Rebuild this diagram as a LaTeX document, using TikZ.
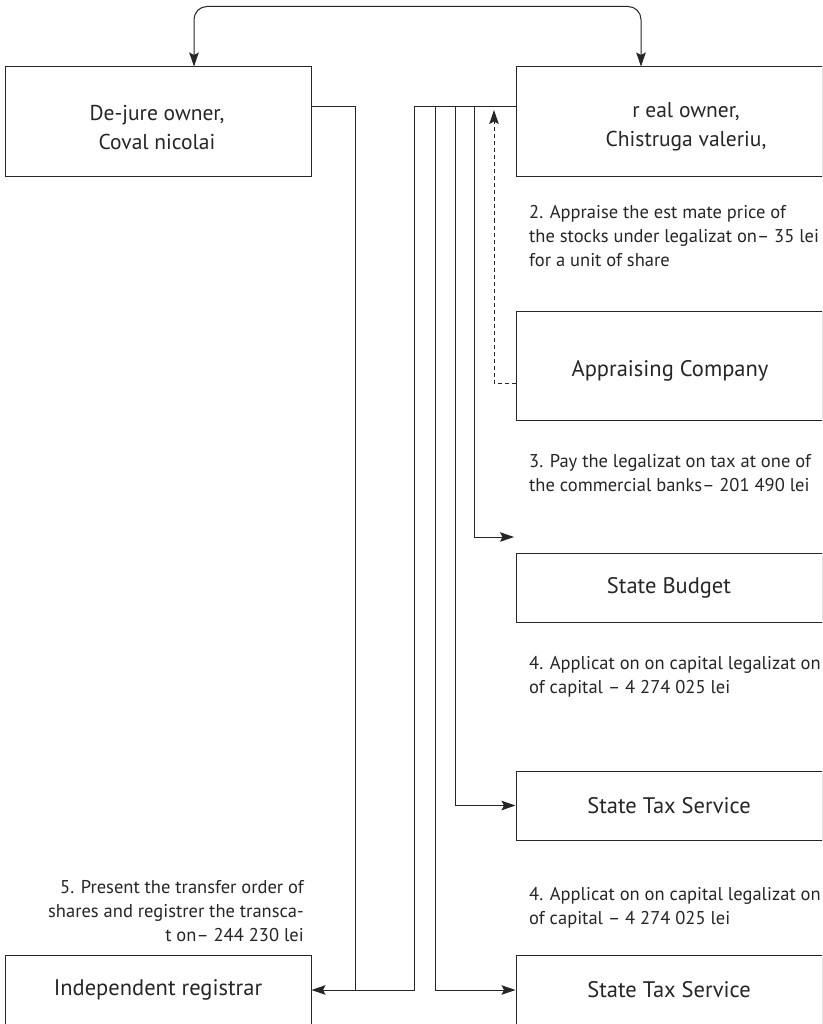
\documentclass[tikz,border=0pt]{standalone}
\usepackage{fontspec}
\setmainfont{PT Sans}
\usetikzlibrary{arrows.meta}
\definecolor{ink}{HTML}{262626}
\tikzset{
  box/.style={draw=ink, line width=1pt, minimum width=306pt, inner sep=0pt, text=ink, align=center, font=\fontsize{22.5}{29}\selectfont},
  boxtext/.style={inner sep=0pt, text=ink, align=center, font=\fontsize{21.5}{29}\selectfont},
  lab/.style={inner sep=0pt, text=ink, font=\fontsize{18.5}{23.6}\selectfont},
  wire/.style={draw=ink, line width=1pt},
  arr/.style={wire, -{Stealth[length=14pt,width=9.5pt,inset=2.5pt]}},
  dbl/.style={wire, {Stealth[length=14pt,width=9.5pt,inset=2.5pt]}-{Stealth[length=14pt,width=9.5pt,inset=2.5pt]}, rounded corners=13pt},
}
\begin{document}
\begin{tikzpicture}[x=1pt,y=-1pt]
\useasboundingbox (0,0) rectangle (822,1024);
\clip (0,0) rectangle (822,1024);
\fill[white] (0,0) rectangle (822,1024);
% boxes
\node[box, minimum height=110pt] (dejure) at (158,122) {};
\node[boxtext] (dejuretext) at (157,128) {De-jure owner,\\Coval nicolai};
\node[box, minimum height=110pt] (real) at (669,122) {};
\node[boxtext] (realtext) at (686,127) {r eal owner,\\Chistruga valeriu,};
\node[box, minimum height=109pt] (apprais) at (669,365.5) {};
\node[inner sep=0pt, text=ink, font=\fontsize{22.5}{29}\selectfont] (appraistext) at (670,371) {Appraising Company};
\node[box, minimum height=69pt] (budget) at (669,587.5) {State Budget};
\node[box, minimum height=69pt] (tax1) at (669,805.5) {State Tax Service};
\node[box, minimum height=70pt] (tax2) at (669,990) {State Tax Service};
\node[box, minimum height=70pt] (registrar) at (158,990) {Independent registrar};
% labels (anchored at the baseline of their last line)
\node[lab, anchor=base west, align=left] (l2) at (529,266) {2. Appraise the est mate price of\\the stocks under legalizat on-- 35 lei\\for a unit of share};
\node[lab, anchor=base west, align=left] (l3) at (529,491) {3. Pay the legalizat on tax at one of\\the commercial banks-- 201 490 lei};
\node[lab, anchor=base west, align=left] (l4) at (529,693) {4. Applicat on on capital legalizat on\\of capital -- 4 274 025 lei};
\node[lab, anchor=base west, align=left] (l4b) at (529,924) {4. Applicat on on capital legalizat on\\of capital -- 4 274 025 lei};
\node[lab, anchor=base east, align=right] (l5) at (304,941) {5. Present the transfer order of\\shares and registrer the transca-\\t on-- 244 230 lei};
% coordinates
\coordinate (jl) at (355,107);
\coordinate (jr) at (414,107);
\coordinate (v1) at (435,107);
\coordinate (v2) at (455,107);
\coordinate (v3) at (474,107);
\coordinate (budarr) at (514,537);
\coordinate (dtip) at (494,110);
% top double arrow
\path[dbl] ([xshift=36pt]dejure.north) -- ++(0,-60) -| ([xshift=-28pt]real.north);
% connectors
\draw[arr] ([yshift=15pt]dejure.east) -- (jl) -- (jl |- registrar.east) -- (registrar.east);
\draw[wire] ([yshift=15pt]real.west) -- (jr) -- (jr |- registrar.east) -- (jl |- registrar.east);
\draw[arr] (v1) |- (tax2.west);
\draw[arr] (v2) |- (tax1.west);
\draw[arr] (v3) |- (budarr);
\draw[arr, dash pattern=on 4pt off 3pt] ([yshift=-17.5pt]apprais.west) -| (dtip);
\end{tikzpicture}
\end{document}
